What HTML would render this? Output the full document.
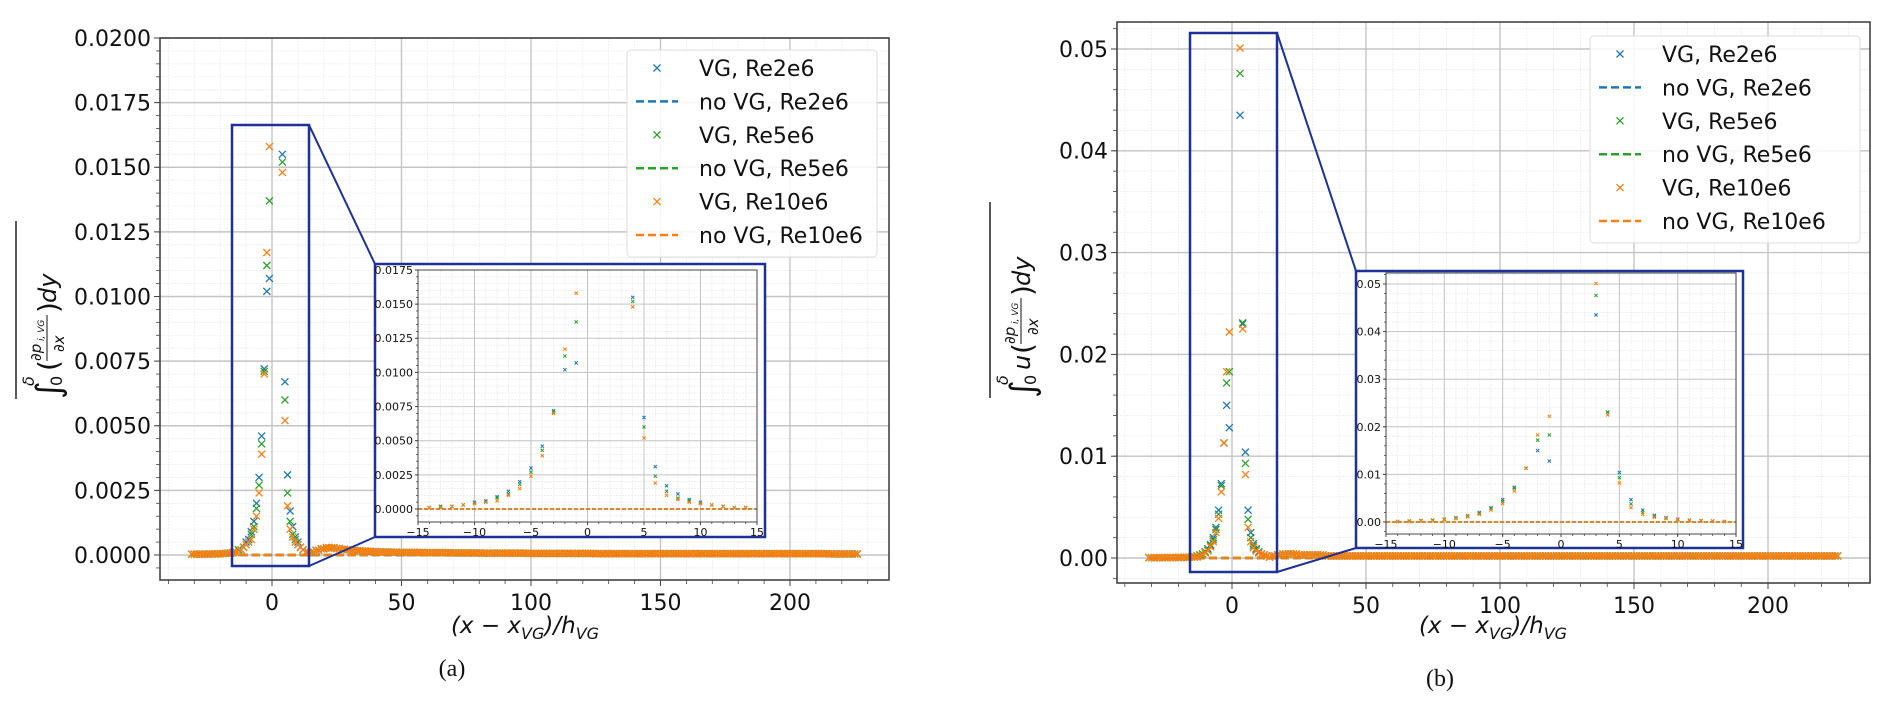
<!DOCTYPE html>
<html><head><meta charset="utf-8"><style>
html,body{margin:0;padding:0;background:#fff;}
svg{display:block;font-family:"DejaVu Sans","Liberation Sans",sans-serif;}
</style></head><body>
<svg id="fig" width="1892" height="712" viewBox="0 0 1892 712" xmlns="http://www.w3.org/2000/svg"></svg>
<script>
// ---------- data ----------
const coreX = [-14,-13,-12,-11,-10,-9,-8,-7,-6,-5,-4,-3,-2,-1,0,1,2,3,4,5,6,7,8,9,10,11,12,13,14];
const aBlue   = [.0001,.0002,.0002,.0003,.0005,.0006,.0009,.0013,.0020,.0030,.0046,.0072,.0102,.0107,null,null,null,null,.0155,.0067,.0031,.0017,.0011,.0007,.0005,.0003,.0002,.0001,.0001];
const aGreen  = [.0001,.0002,.0002,.0003,.0004,.0005,.0008,.0011,.0018,.0027,.0043,.0071,.0112,.0137,null,null,null,null,.0152,.0060,.0024,.0013,.0008,.0006,.0004,.0003,.0002,.0001,.0001];
const aOrange = [.0001,.0001,.0002,.0003,.0004,.0005,.0006,.0010,.0015,.0024,.0039,.0070,.0117,.0158,null,null,null,null,.0148,.0052,.0019,.0010,.0007,.0005,.0004,.0003,.0002,.0001,.0001];
const bBlue   = [.0001,.0002,.0003,.0004,.0006,.0009,.0013,.0020,.0030,.0047,.0073,.0113,.0150,.0128,null,null,null,.0435,.0230,.0104,.0047,.0025,.0014,.0009,.0006,.0004,.0003,.0002,.0001];
const bGreen  = [.0001,.0002,.0003,.0004,.0006,.0008,.0012,.0018,.0028,.0043,.0071,.0113,.0172,.0183,null,null,null,.0476,.0231,.0093,.0038,.0020,.0012,.0008,.0005,.0004,.0003,.0002,.0001];
const bOrange = [.0001,.0001,.0002,.0003,.0005,.0007,.0011,.0016,.0025,.0039,.0065,.0113,.0183,.0222,null,null,null,.0501,.0225,.0082,.0030,.0016,.0010,.0007,.0005,.0004,.0003,.0002,.0001];
const tailLeftX = [-31,-30,-29,-28,-27,-26,-25,-24,-23,-22,-21,-20,-19,-18,-17,-16,-15];
const tailLeftY = [.00003,.00003,.00003,.00003,.00003,.00003,.00003,.00004,.00004,.00004,.00004,.00005,.00005,.00006,.00007,.00008,.0001];
const tailRightStartX = 15, tailRightStepX = 2;
const aTailY = [.0001,.00018,.00024,.00028,.00028,.00025,.00022,.0002,.00018,.00016,.00015,.00014,.00013,.00012,.00012,.00011,.00011,.0001,.0001,.0001,.0001,.0001,.00009,.00009,.00009,.00009,.00009,.00008,.00008,.00008,.00008,.00008,.00008,.00007,.00007,.00007,.00007,.00007,.00007,.00007,.00007,.00007,.00006,.00006,.00006,.00006,.00006,.00006,.00006,.00006,.00006,.00006,.00006,.00006,.00006,.00005,.00005,.00005,.00005,.00005,.00005,.00005,.00005,.00005,.00005,.00005,.00005,.00005,.00005,.00005,.00005,.00005,.00005,.00005,.00005,.00005,.00005,.00005,.00005,.00005,.00005,.00005,.00005,.00005,.00005,.00005,.00005,.00005,.00005,.00005,.00005,.00005,.00005,.00005,.00005,.00005,.00005,.00005,.00005,.00005,.00004,.00004,.00004,.00004,.00004,.00004];
const bTailY = [.0002,.0003,.0004,.0004,.0004,.0003,.0003,.0003,.0003,.0003,.0002,.0002,.0002,.0002,.0002,.0002,.0002,.0002,.0002,.0002,.0002,.0002,.0002,.0002,.0002,.0002,.0002,.0002,.0002,.0002,.0002,.0002,.0002,.0002,.0002,.0002,.0002,.0002,.0002,.0002,.0002,.0002,.0002,.0002,.0002,.0002,.0002,.0002,.0002,.0002,.0002,.0002,.0002,.0002,.0002,.0002,.0002,.0002,.0002,.0002,.0002,.0002,.0002,.0002,.0002,.0002,.0002,.0002,.0002,.0002,.0002,.0002,.0002,.0002,.0002,.0002,.0002,.0002,.0002,.0002,.0002,.0002,.0002,.0002,.0002,.0002,.0002,.0002,.0002,.0002,.0002,.0002,.0002,.0002,.0002,.0002,.0002,.0002,.0002,.0002,.0002,.0002,.0002,.0002,.0002,.0002];
const mainXTicks = [0,50,100,150,200];
const aYTicks = [0,.0025,.005,.0075,.01,.0125,.015,.0175,.02];
const bYTicks = [0,.01,.02,.03,.04,.05];
const insetXTicks = [-15,-10,-5,0,5,10,15];
const aInsetYTicks = [0,.0025,.005,.0075,.01,.0125,.015,.0175];
const bInsetYTicks = [0,.01,.02,.03,.04,.05];
const legendLabels = ["VG, Re2e6","no VG, Re2e6","VG, Re5e6","no VG, Re5e6","VG, Re10e6","no VG, Re10e6"];
const COLORS = ["#1f77b4","#2ca02c","#ff7f0e"];

// ---------- helpers ----------
const NS = "http://www.w3.org/2000/svg";
const svg = document.getElementById("fig");
function el(tag, attrs, parent){
  const e = document.createElementNS(NS, tag);
  for (const k in attrs) e.setAttribute(k, attrs[k]);
  (parent||svg).appendChild(e);
  return e;
}
function line(x1,y1,x2,y2,stroke,w,parent,dash){
  const l = el("line",{x1,y1,x2,y2,stroke,"stroke-width":w},parent);
  if(dash) l.setAttribute("stroke-dasharray",dash);
  return l;
}
function marker(g,cx,cy,s,color,w){
  const p = el("path",{d:`M${cx-s},${cy-s}L${cx+s},${cy+s}M${cx-s},${cy+s}L${cx+s},${cy-s}`,stroke:color,"stroke-width":w,fill:"none"},g);
  
  
}

function drawAxes(c){
  const g = el("g",{});
  
  
  const X = v => c.x0 + c.kx*v, Y = v => c.y0 - c.ky*v;
  if (c.bg) el("rect",{x:c.l,y:c.t,width:c.r-c.l,height:c.b-c.t,fill:"#fff"},g);
  for (let v=c.xMinorStart; v<=c.xMinorEnd+1e-9; v+=c.xMinor){
    const px=X(v); if(px<c.l||px>c.r) continue;
    line(px,c.t,px,c.b,"#ececec",0.8,g,"2,1");
    line(px,c.b,px,c.b+(c.small?2:4),"#444",0.8,g);
  }
  for (let v=c.yMinorStart; v<=c.yMinorEnd+1e-9; v+=c.yMinor){
    const py=Y(v); if(py<c.t||py>c.b) continue;
    line(c.l,py,c.r,py,"#ececec",0.8,g,"2,1");
    line(c.l-(c.small?2:4),py,c.l,py,"#444",0.8,g);
  }
  c.xTicks.forEach(v=>{
    const px=X(v);
    line(px,c.t,px,c.b,"#c4c4c4",c.small?1:1.4,g);
    line(px,c.b,px,c.b+(c.small?3:6),"#444",1,g);
    const t = el("text",{x:px,y:c.b+(c.small?14:30),"font-size":c.fs,"text-anchor":"middle",fill:"#111"},g);
    t.textContent = v<0 ? "\u2212"+Math.abs(v) : String(v);
    
    
  });
  c.yTicks.forEach(v=>{
    const py=Y(v);
    line(c.l,py,c.r,py,"#c4c4c4",c.small?1:1.4,g);
    line(c.l-(c.small?3:6),py,c.l,py,"#444",1,g);
    const t = el("text",{x:c.l-(c.small?5:9),y:py+c.fs*0.36,"font-size":c.fs,"text-anchor":"end",fill:"#111"},g);
    t.textContent = v.toFixed(c.dec);
    
    
  });
  const cid = c.name+"-clip";
  const cp = el("clipPath",{id:cid},g);
  el("rect",{x:c.l,y:c.t,width:c.r-c.l,height:c.b-c.t},cp);
  const dg = el("g",{"clip-path":`url(#${cid})`},g);
  
  
  COLORS.forEach((col,i)=>{
    const l = line(X(c.lineFrom),Y(0),X(c.lineTo),Y(0),col,c.small?1.5:2.5,dg,c.small?"4,2":"8,4");
    
    
  });
  c.series.forEach((ser,i)=>{
    const sg = el("g",{},dg);
    
    
    if (c.tails){
      tailLeftX.forEach((x,j)=>marker(sg,X(x),Y(tailLeftY[j]),c.ms,COLORS[i],c.mw));
      c.tailY.forEach((v,j)=>marker(sg,X(tailRightStartX+j*tailRightStepX),Y(v),c.ms,COLORS[i],c.mw));
      c.tailY.forEach((v,j)=>marker(sg,X(tailRightStartX+1+j*tailRightStepX),Y(v),c.ms,COLORS[i],c.mw));
    }
    coreX.forEach((x,j)=>{ if(ser[j]!==null) marker(sg,X(x),Y(ser[j]),c.ms,COLORS[i],c.mw); });
  });
  const fr = el("rect",{x:c.l,y:c.t,width:c.r-c.l,height:c.b-c.t,fill:"none",stroke:"#444","stroke-width":c.small?1:1.6},g);
  
  
}

function drawZoom(r, f, c1, c2){
  const g = el("g",{});
  
  
  el("rect",{x:r[0],y:r[1],width:r[2]-r[0],height:r[3]-r[1],fill:"none",stroke:"#1f3196","stroke-width":2.5},g);
  line(c1[0],c1[1],c1[2],c1[3],"#1f3196",2,g);
  line(c2[0],c2[1],c2[2],c2[3],"#1f3196",2,g);
  const fg = el("rect",{x:f[0],y:f[1],width:f[2]-f[0],height:f[3]-f[1],fill:"#fff",stroke:"#1f3196","stroke-width":2.5});
  
  
}

function drawLegend(x,y,w,h,tx,mx,rowY,rowH){
  const g = el("g",{});
  
  
  el("rect",{x,y,width:w,height:h,rx:4,fill:"#fff","fill-opacity":0.85,stroke:"#dcdcdc","stroke-width":1},g);
  legendLabels.forEach((lab,i)=>{
    const cy = rowY + i*rowH, col = COLORS[Math.floor(i/2)];
    const eg = el("g",{},g);
    
    
    if(i%2===0) marker(eg,mx,cy,3.5,col,1.3);
    else line(mx-21,cy,mx+21,cy,col,2.5,eg,"8,4");
    const t = el("text",{x:tx,y:cy+8,"font-size":22,fill:"#111"},eg);
    t.textContent = lab;
  });
}

function caption(x,y,txt,name){
  const t = el("text",{x,y,"font-size":24,"text-anchor":"middle",fill:"#111","font-family":"Liberation Serif, serif"});
  t.textContent = txt;
  
  
}
function xlabel(cx,y,name){
  const t = el("text",{x:cx,y,"font-size":23,"text-anchor":"middle",fill:"#111","font-style":"italic"});
  t.innerHTML = '(x \u2212 x<tspan font-size="16" dy="6">VG</tspan><tspan dy="-6">)/h</tspan><tspan font-size="16" dy="6">VG</tspan>';
  
  
}
function txt(g,x,y,s,fs,italic){
  const t = el("text",{x,y,"font-size":fs,fill:"#111","font-style":italic?"italic":"normal"},g);
  t.textContent = s;
  return t;
}
function ylabel(cx,cy,withU,name){
  const g = el("g",{transform:`translate(${cx},${cy}) rotate(-90)`});
  
  
  const w = withU ? 196 : 178;
  let x = -w/2;
  line(x,-30,x+w,-30,"#111",1.4,g);
  txt(g,x,14,"\u222B",34,false);
  txt(g,x+13,-12,"\u03B4",16,true);
  txt(g,x+13,16,"0",16,false);
  x += 28;
  if (withU){ txt(g,x,10,"u",24,true); x += 16; }
  txt(g,x,12,"(",28,false);
  x += 10;
  txt(g,x,-5,"\u2202p",15,true);
  txt(g,x+20,-2,"i, VG",9,true);
  line(x,1,x+46,1,"#111",1,g);
  txt(g,x+9,18,"\u2202x",15,true);
  x += 48;
  txt(g,x,12,")",28,false);
  txt(g,x+10,10,"dy",24,true);
}

// ---------- panel (a) ----------
drawAxes({name:"panel-a-axes",l:160,t:38,r:889,b:580,x0:272,kx:2.59,y0:555,ky:25850,
  xTicks:mainXTicks,yTicks:aYTicks,dec:4,fs:22,xMinor:10,xMinorStart:-40,xMinorEnd:230,
  yMinor:.0005,yMinorStart:-.0005,yMinorEnd:.02,series:[aBlue,aGreen,aOrange],tails:true,tailY:aTailY,
  ms:3.5,mw:1.3,lineFrom:-31,lineTo:225});
drawZoom([232,125,309,566],[375,264,765,537],[309,125,375,264],[309,566,375,537]);
drawAxes({name:"panel-a-inset",small:true,bg:true,l:418,t:270,r:757,b:522,x0:587.5,kx:11.3,y0:509,ky:13657,
  xTicks:insetXTicks,yTicks:aInsetYTicks,dec:4,fs:11,xMinor:1,xMinorStart:-15,xMinorEnd:15,
  yMinor:.0005,yMinorStart:-.0005,yMinorEnd:.0175,series:[aBlue,aGreen,aOrange],tails:false,
  ms:1.6,mw:1,lineFrom:-15,lineTo:15});
drawLegend(627,50,250,207,699,657,68,33.4);
xlabel(525,633,"x-axis-title-a");
ylabel(46,310,false,"y-axis-title-a");
caption(452,676,"(a)","caption-a");

// ---------- panel (b) ----------
drawAxes({name:"panel-b-axes",l:1117,t:22,r:1870,b:583,x0:1232,kx:2.68,y0:558,ky:10180,
  xTicks:mainXTicks,yTicks:bYTicks,dec:2,fs:22,xMinor:10,xMinorStart:-40,xMinorEnd:230,
  yMinor:.002,yMinorStart:-.002,yMinorEnd:.052,series:[bBlue,bGreen,bOrange],tails:true,tailY:bTailY,
  ms:3.5,mw:1.3,lineFrom:-31,lineTo:225});
drawZoom([1190,33,1277,572],[1356,271,1743,548],[1277,33,1356,271],[1277,572,1356,548]);
drawAxes({name:"panel-b-inset",small:true,bg:true,l:1386,t:273,r:1736,b:534,x0:1561,kx:11.67,y0:522,ky:4760,
  xTicks:insetXTicks,yTicks:bInsetYTicks,dec:2,fs:11,xMinor:1,xMinorStart:-15,xMinorEnd:15,
  yMinor:.002,yMinorStart:-.002,yMinorEnd:.052,series:[bBlue,bGreen,bOrange],tails:false,
  ms:1.6,mw:1,lineFrom:-15,lineTo:15});
drawLegend(1590,36,270,207,1662,1620,54,33.4);
xlabel(1493,633,"x-axis-title-b");
ylabel(1020,300,true,"y-axis-title-b");
caption(1440,686,"(b)","caption-b");
</script>
</body></html>
